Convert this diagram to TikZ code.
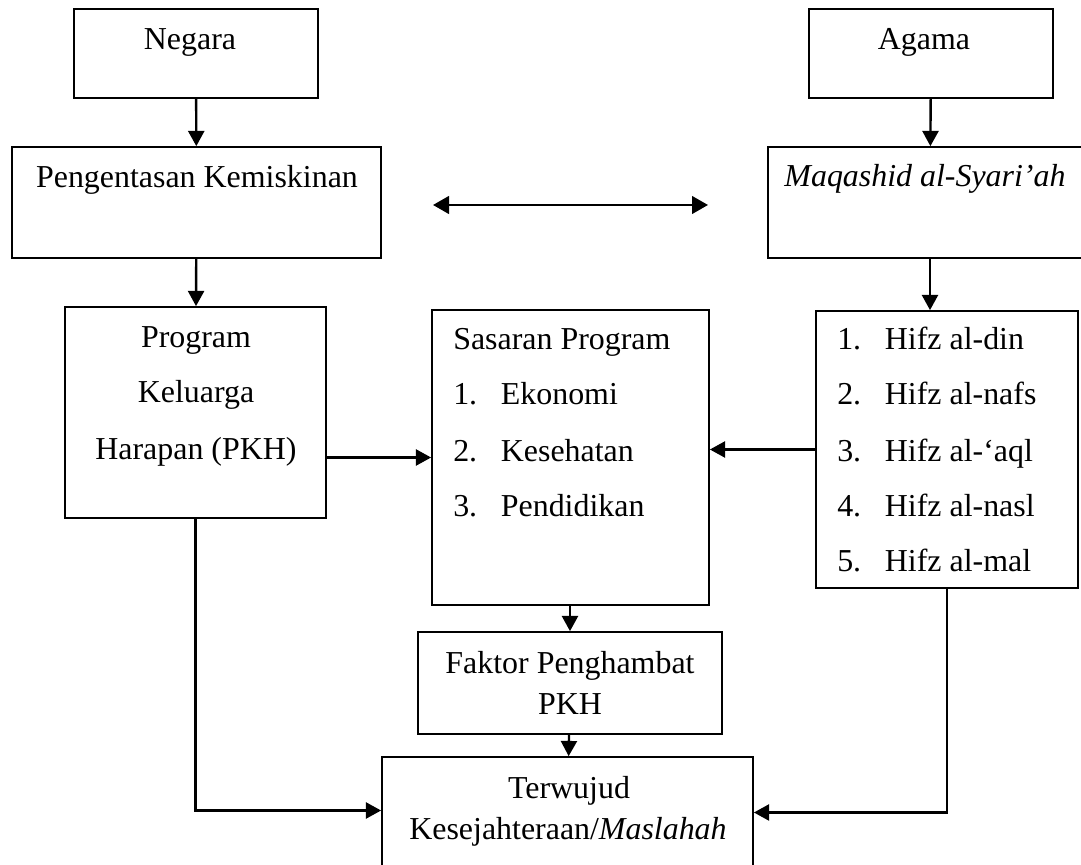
\documentclass[tikz,border=0pt]{standalone}
\usepackage{fontspec}
\setmainfont{Liberation Serif}
\usetikzlibrary{arrows.meta}
\tikzset{
  box/.style={draw, line width=1.2pt, inner sep=0pt},
  txt/.style={font=\fontsize{22.7}{27}\selectfont, inner sep=0pt},
  arr/.style={-{Triangle[length=0.38cm,width=0.4cm]}, line width=1.7pt},
  darr/.style={{Triangle[length=0.4cm,width=0.44cm]}-{Triangle[length=0.4cm,width=0.44cm]}, line width=1.7pt}
}
\newcommand{\itemno}[1]{\makebox[1.19cm][l]{#1}}

\begin{document}
\begin{tikzpicture}[x=0.025cm, y=-0.025cm]
    \useasboundingbox (0,0) rectangle (1081,865);
    % boxes
    \node [box, minimum width=6.1cm, minimum height=2.225cm] (neg) at (196,53.5) {};
    \node [box, minimum width=6.1cm, minimum height=2.225cm] (aga) at (931,53.5) {};
    \node [box, minimum width=9.225cm, minimum height=2.775cm] (pen) at (196.5,202.5) {};
    \node [box, minimum width=8.1cm, minimum height=2.775cm] (maq) at (930,202.5) {};
    \node [box, minimum width=6.525cm, minimum height=5.275cm] (pkh) at (195.5,412.5) {};
    \node [box, minimum width=6.925cm, minimum height=7.375cm] (sas) at (570.5,457.5) {};
    \node [box, minimum width=6.55cm, minimum height=6.925cm] (hif) at (947,449.5) {};
    \node [box, minimum width=7.6cm, minimum height=2.55cm] (fak) at (570,683) {};
    \node [box, minimum width=9.275cm, minimum height=3.075cm] (ter) at (567.5,818.5) {};
    % texts
    \node [txt, anchor=base] (negT) at (190,50) {Negara};
    \node [txt, anchor=base] (agaT) at (924,50) {Agama};
    \node [txt, anchor=base] (penT) at (197,188) {Pengentasan Kemiskinan};
    \node [txt, anchor=base] (maqT) at (925,187) {\itshape Maqashid al-Syari’ah};
    \node [txt, anchor=base] (pkh1) at (196,348) {Program};
    \node [txt, anchor=base] (pkh2) at (196,403) {Keluarga};
    \node [txt, anchor=base] (pkh3) at (196,460) {Harapan (PKH)};
    \node [txt, anchor=base west] (sas0) at (453,350) {Sasaran Program};
    \node [txt, anchor=base west] (sas1) at (453,405) {\itemno{1.}Ekonomi};
    \node [txt, anchor=base west] (sas2) at (453,462) {\itemno{2.}Kesehatan};
    \node [txt, anchor=base west] (sas3) at (453,517) {\itemno{3.}Pendidikan};
    \node [txt, anchor=base west] (hif1) at (837,350) {\itemno{1.}Hifz al-din};
    \node [txt, anchor=base west] (hif2) at (837,405) {\itemno{2.}Hifz al-nafs};
    \node [txt, anchor=base west] (hif3) at (837,462) {\itemno{3.}Hifz al-‘aql};
    \node [txt, anchor=base west] (hif4) at (837,517) {\itemno{4.}Hifz al-nasl};
    \node [txt, anchor=base west] (hif5) at (837,572) {\itemno{5.}Hifz al-mal};
    \node [txt, anchor=base] (fak1) at (570,673) {Faktor Penghambat};
    \node [txt, anchor=base] (fak2) at (570,714) {PKH};
    \node [txt, anchor=base] (ter1) at (569,798) {Terwujud};
    \node [txt, anchor=base] (ter2) at (568,839) {Kesejahteraan/\textit{Maslahah}};
    \coordinate (dl) at (433,205);
    \coordinate (dr) at (708,205);
    % arrows
    \draw [arr] (neg) -- (pen);
    \draw [arr] (aga) -- (maq);
    \draw [arr] (pen) -- (pkh);
    \draw [arr] (maq.south) -- (maq.south |- hif.north);
    \draw [darr] (dl) -- (dr);
    \draw [arr] (pkh.east |- sas.west) -- (sas.west);
    \draw [arr] (hif.west) -- (hif.west -| sas.east);
    \draw [arr] (sas.south -| fak.north) -- (fak.north);
    \draw [arr] (fak) -- (ter);
    \draw [arr] (pkh.south) |- ([yshift=0.2cm]ter.west);
    \draw [arr] (hif.south) |- ([yshift=0.15cm]ter.east);
\end{tikzpicture}
\end{document}
